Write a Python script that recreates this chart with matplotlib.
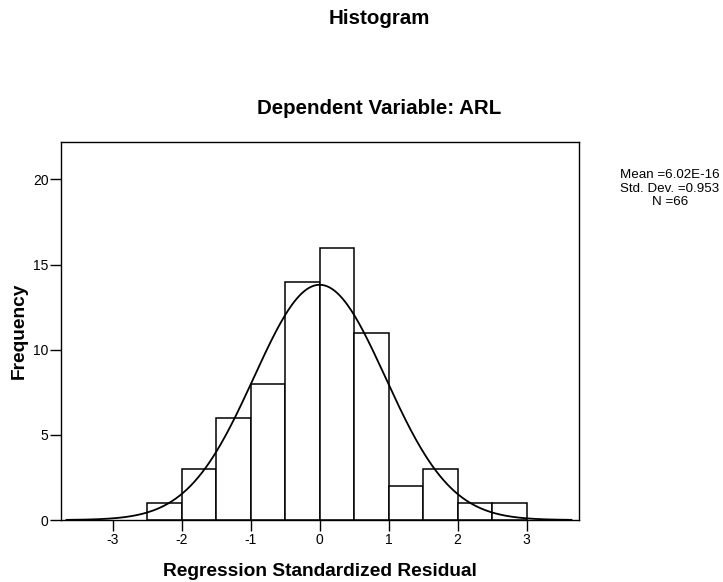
import numpy as np
import matplotlib
matplotlib.use("Agg")
import matplotlib.pyplot as plt

plt.rcParams['font.family'] = ['Liberation Sans', 'DejaVu Sans']
plt.rcParams['axes.unicode_minus'] = False

# histogram bins (left edges) and counts
bin_left = [-2.5, -2.0, -1.5, -1.0, -0.5, 0.0, 0.5, 1.0, 1.5, 2.0, 2.5]
counts = [1, 3, 6, 8, 14, 16, 11, 2, 3, 1, 1]
bin_width = 0.5

# summary statistics shown in the chart
mean = 6.02e-16
std = 0.953
n = 66
stats_lines = ['Mean =6.02E-16', 'Std. Dev. =0.953', 'N =66']

xticks = [-3, -2, -1, 0, 1, 2, 3]
yticks = [0, 5, 10, 15, 20]

fig = plt.figure(figsize=(7.23, 5.82), dpi=100)
ax = fig.add_axes([61 / 723, 62 / 582, 518 / 723, 378 / 582])

ax.bar(bin_left, counts, width=bin_width, align='edge',
       facecolor='white', edgecolor='black', linewidth=1.1, zorder=2)

# fitted normal curve
xs = np.linspace(-3.67, 3.65, 400)
ys = n * bin_width / (std * np.sqrt(2 * np.pi)) * np.exp(-0.5 * ((xs - mean) / std) ** 2)
ax.plot(xs, ys, color='black', linewidth=1.3, zorder=3)

ax.set_xlim(-3.75, 3.76)
ax.set_ylim(0, 22.2)
ax.set_xticks(xticks)
ax.set_yticks(yticks)
ax.tick_params(axis='both', direction='out', length=8, width=1, labelsize=10, pad=1)
for s in ax.spines.values():
    s.set_linewidth(1)

ax.set_xlabel('Regression Standardized Residual', fontsize=13.8, fontweight='bold', labelpad=12)
ax.set_ylabel('Frequency', fontsize=13.8, fontweight='bold')
ax.yaxis.set_label_coords(-33 / 518, 0.5)

fig.text(379 / 723, 1 - 18 / 582, 'Histogram', ha='center', va='center',
         fontsize=14.8, fontweight='bold')
fig.text(379 / 723, 1 - 108 / 582, 'Dependent Variable: ARL', ha='center', va='center',
         fontsize=14.8, fontweight='bold')

for i, line in enumerate(stats_lines):
    fig.text(670 / 723, 1 - (175 + 13.5 * i) / 582, line,
             ha='center', va='center', fontsize=9.6)

fig.savefig('out.png', dpi=100)
